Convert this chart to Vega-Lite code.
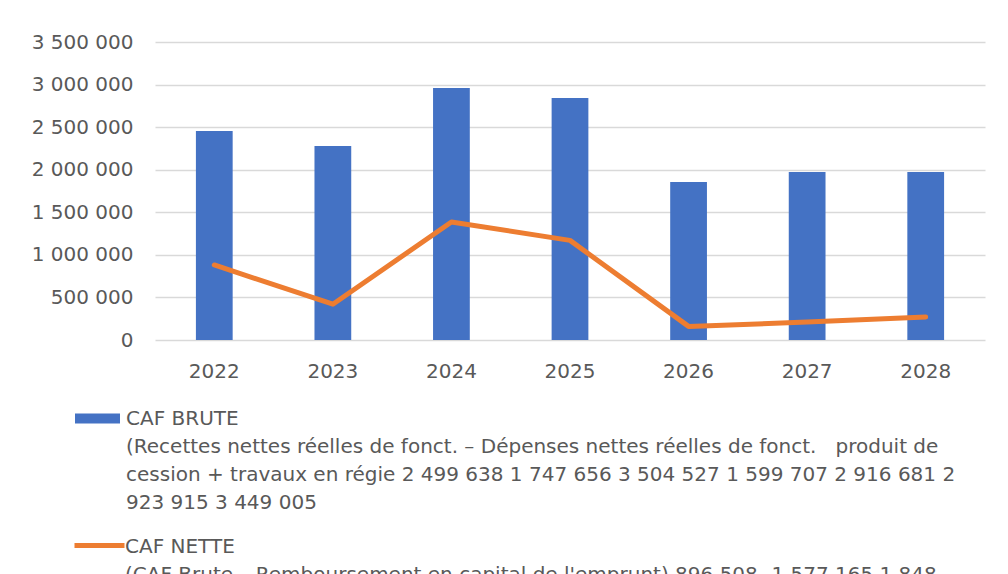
{
  "$schema": "https://vega.github.io/schema/vega-lite/v6.json",
  "width": 830,
  "height": 298,
  "autosize": {"type": "none"},
  "padding": {"left": 155, "top": 42, "right": 23, "bottom": 234},
  "background": "white",
  "config": {
    "locale": {"number": {"decimal": ",", "thousands": " ", "grouping": [3], "currency": ["", " €"]}},
    "view": {"stroke": null},
    "font": "DejaVu Sans"
  },
  "data": {
    "values": [
      {"annee": "2022", "brute": 2455000, "nette": 881000},
      {"annee": "2023", "brute": 2278000, "nette": 420000},
      {"annee": "2024", "brute": 2960000, "nette": 1386000},
      {"annee": "2025", "brute": 2842000, "nette": 1170000},
      {"annee": "2026", "brute": 1856000, "nette": 160000},
      {"annee": "2027", "brute": 1973000, "nette": 210000},
      {"annee": "2028", "brute": 1973000, "nette": 270000}
    ]
  },
  "encoding": {
    "x": {
      "field": "annee", "type": "ordinal",
      "scale": {"paddingInner": 0.69, "paddingOuter": 0.345},
      "axis": {"title": null, "labelAngle": 0, "ticks": false, "domain": false, "labelPadding": 21, "labelFontSize": 20, "labelColor": "#595959", "labelFont": "DejaVu Sans"}
    }
  },
  "layer": [
    {
      "mark": {"type": "bar", "color": "#4472C4"},
      "transform": [{"calculate": "'CAF BRUTE'", "as": "serie"}],
      "encoding": {
        "y": {
          "field": "brute", "type": "quantitative",
          "scale": {"domain": [0, 3500000], "nice": false},
          "axis": {"title": null, "values": [0, 500000, 1000000, 1500000, 2000000, 2500000, 3000000, 3500000], "format": ",d", "ticks": false, "domain": false, "labelPadding": 22, "labelFontSize": 20, "labelColor": "#595959", "gridColor": "#D9D9D9", "gridWidth": 1.5, "labelFont": "DejaVu Sans"}
        },
        "fill": {
          "field": "serie", "type": "nominal",
          "scale": {"domain": ["CAF BRUTE"], "range": ["#4472C4"]},
          "legend": {
            "title": null, "orient": "none", "legendX": -80, "legendY": 354,
            "symbolType": "M-1,-0.22H1V0.22H-1Z", "symbolSize": 2025, "symbolStrokeWidth": 0,
            "labelFontSize": 20, "labelColor": "#595959", "labelLimit": 0, "labelOffset": 6,
            "labelBaseline": "top",
            "labelExpr": "['CAF BRUTE', '(Recettes nettes réelles de fonct. – Dépenses nettes réelles de fonct.\u00a0\u00a0\u00a0produit de', 'cession + travaux en régie 2 499 638 1 747 656 3 504 527 1 599 707 2 916 681 2', '923 915 3 449 005']",
            "encode": {"labels": {"update": {"lineHeight": {"value": 28}, "dy": {"value": -10}}}}
          }
        }
      }
    },
    {
      "mark": {"type": "line", "strokeWidth": 5, "strokeCap": "round", "strokeJoin": "round"},
      "transform": [{"calculate": "'CAF NETTE'", "as": "serie2"}],
      "encoding": {
        "y": {"field": "nette", "type": "quantitative"},
        "stroke": {
          "field": "serie2", "type": "nominal",
          "scale": {"domain": ["CAF NETTE"], "range": ["#ED7D31"]},
          "legend": {
            "title": null, "orient": "none", "legendX": -83, "legendY": 476,
            "symbolType": "stroke", "symbolSize": 2500, "symbolStrokeWidth": 5,
            "labelFontSize": 20, "labelColor": "#595959", "labelLimit": 0, "labelOffset": -2,
            "labelBaseline": "top",
            "labelExpr": "['CAF NETTE', '(CAF Brute – Remboursement en capital de l\\'emprunt) 896 508 -1 577 165 1 848']",
            "encode": {"labels": {"update": {"lineHeight": {"value": 28}, "dy": {"value": -9}}}}
          }
        }
      }
    }
  ]
}
